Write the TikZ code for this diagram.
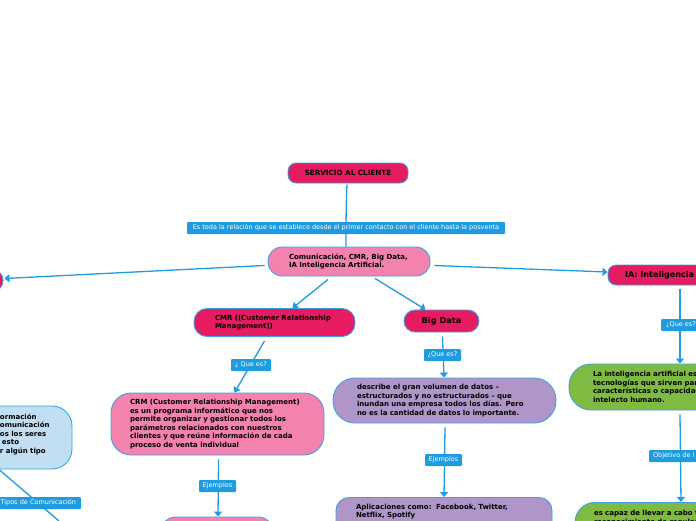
\documentclass[tikz,border=0pt]{standalone}
\usepackage{fontspec}
\setmainfont{DejaVu Sans}
\usetikzlibrary{calc,arrows.meta}
\definecolor{edgeblue}{HTML}{1F9BE0}
\definecolor{boxline}{HTML}{3FA0E4}
\definecolor{crimson}{HTML}{E61B60}
\definecolor{rosa}{HTML}{F482AE}
\definecolor{lila}{HTML}{B096C8}
\definecolor{verde}{HTML}{7FBB42}
\definecolor{celeste}{HTML}{C2DEF2}
\tikzset{
  box/.style={draw=boxline,line width=0.9pt,text=black,font=\fontsize{7}{8.5}\selectfont\bfseries,align=left,inner ysep=0pt,inner xsep=0pt},
  tag/.style={fill=edgeblue,text=white,font=\fontsize{6.5}{8}\selectfont,inner sep=0pt,rounded corners=1pt,minimum height=12pt,anchor=center},
  link/.style={draw=edgeblue,line width=1.3pt},
  arrowlink/.style={link,-{Triangle[length=5pt,width=8pt]}}
}
\begin{document}
\begin{tikzpicture}[x=1pt,y=-1pt]
\useasboundingbox (0,0) rectangle (696,520);
\clip (0,0) rectangle (696,520);
% boxes
\node[box,fill=crimson,rounded corners=8pt,minimum width=120pt,minimum height=20pt,font=\fontsize{7.2}{8}\selectfont\bfseries] (root) at (348,173) {SERVICIO AL CLIENTE};
\node[box,fill=rosa,rounded corners=14pt,text width=120pt,inner xsep=21pt,minimum height=29pt] (comm) at (349,261.5) {Comunicación, CMR, Big Data,\\IA Inteligencia Artificial.};
\node[box,fill=crimson,rounded corners=10pt,minimum width=40pt,minimum height=21pt] (left) at (-17,280.5) {};
\node[box,fill=crimson,rounded corners=13pt,text width=119pt,inner xsep=21pt,minimum height=28pt] (crm) at (274.5,322.5) {CMR ((Customer Relationship\\Management))};
\node[box,fill=crimson,rounded corners=11pt,minimum width=75pt,minimum height=22pt,font=\fontsize{8.2}{9}\selectfont\bfseries] (big) at (441.5,321) {Big Data};
\node[box,fill=crimson,rounded corners=8pt,text width=135pt,inner xsep=17pt,minimum height=20pt,font=\fontsize{8.1}{9}\selectfont\bfseries] (ia) at (692.5,275) {IA: Inteligencia};
\node[box,fill=rosa,rounded corners=20pt,text width=175pt,inner xsep=19pt,minimum height=62pt] (crmdesc) at (217.5,424) {CRM (Customer Relationship Management)\\es un programa informático que nos\\permite organizar y gestionar todos los\\parámetros relacionados con nuestros\\clientes y que reúne información de cada\\proceso de venta individual};
\node[box,fill=rosa,rounded corners=13pt,minimum width=110pt,minimum height=40pt] (crmchild) at (217,537) {};
\node[box,fill=lila,rounded corners=22pt,text width=175pt,inner xsep=24pt,minimum height=45pt] (desc) at (444.5,400.5) {describe el gran volumen de datos –\\estructurados y no estructurados – que\\inundan una empresa todos los días. Pero\\no es la cantidad de datos lo importante.};
\node[box,fill=lila,rounded corners=13pt,text width=176pt,inner xsep=20pt,minimum height=44pt,anchor=north] (apps) at (444,497) {Aplicaciones como:\ \ Facebook, Twitter,\\Netflix, Spotify\\[9pt]\mbox{}};
\node[box,fill=verde,rounded corners=22pt,text width=180pt,inner xsep=24pt,minimum height=46pt] (iadesc) at (683,387) {La inteligencia artificial es\\tecnologías que sirven par\\características o capacidad\\intelecto humano.};
\node[box,fill=verde,rounded corners=20pt,text width=180pt,inner xsep=19pt,minimum height=50pt,anchor=north] (iachild) at (684,502) {es capaz de llevar a cabo t\\reconocimiento de regular\\[12pt]\mbox{}};
\node[box,fill=celeste,rounded corners=20pt,minimum width=132pt,minimum height=63pt,text width=132pt] (info) at (6,437.5) {\hspace*{60pt}ormación\\\hspace*{60pt}omunicación\\\hspace*{60pt}os los seres\\\hspace*{62pt}esto\\\hspace*{60pt}r algún tipo\\\mbox{}};
% connector end off the canvas
\coordinate (tiposend) at (59,521);
% connectors
\draw[link] ($(root.south)+(-1,1)$) .. controls ($(root.south)+(-2,20)$) and ($(comm.north)+(-3,-20)$) .. ($(comm.north)+(-3,0)$);
\draw[arrowlink] ($(comm.west)+(-3,4)$) -- ($(left.east)+(1,-2)$);
\draw[arrowlink] ($(comm.east)+(4,4)$) -- ($(ia.west)+(0,-3)$);
\draw[arrowlink] ($(comm.south)+(-21,3)$) -- ($(crm.north)+(18,0)$);
\draw[arrowlink] ($(comm.south)+(26,2)$) -- ($(big.north)+(-16,0)$);
\draw[arrowlink] ($(crm.south)+(-10,4)$) -- ($(crmdesc.north)+(17,0)$);
\draw[arrowlink] ($(crmdesc.south)+(1,4)$) -- ($(crmchild.north)+(1,0)$);
\draw[arrowlink] ($(big.south)+(1,4)$) -- ($(desc.north)+(-0.5,0)$);
\draw[arrowlink] ($(desc.south)+(0.5,4)$) -- ($(apps.north)+(0,0)$);
\draw[arrowlink] ($(ia.south)+(-12.5,4)$) -- ($(iadesc.north)+(-3,0)$);
\draw[arrowlink] ($(iadesc.south)+(-3,4)$) -- ($(iachild.north)+(-3,0)$);
\draw[link] ($(info.south)+(-7,0)$) -- (tiposend);
% labels
\node[tag,minimum width=318pt] (t1) at (346,228) {Es toda la relación que se establece desde el primer contacto con el cliente hasta la posventa};
\node[tag,minimum width=40pt] (t2) at (251,365) {¿ Que es?};
\node[tag,minimum width=37pt] (t3) at (217.5,486) {Ejemplos};
\node[tag,minimum width=37pt] (t4) at (442.5,355) {¿Que es?};
\node[tag,minimum width=37pt] (t5) at (443.5,460) {Ejemplos};
\node[tag,minimum width=40pt] (t6) at (681,325) {¿Que es?};
\node[tag,minimum width=90pt,text width=82pt,align=left] (t7) at (694,456) {Objetivo de l};
\node[tag,minimum width=91pt,text width=81pt,align=right] (t8) at (35.5,503) {Tipos de Comunicación};
\end{tikzpicture}
\end{document}
